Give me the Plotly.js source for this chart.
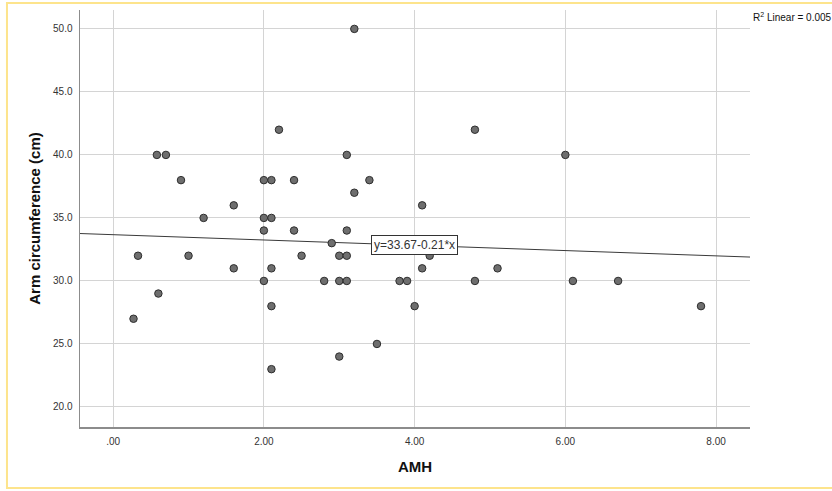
<!DOCTYPE html>
<html>
<head>
<meta charset="utf-8">
<script src="https://cdn.plot.ly/plotly-3.0.1.min.js"></script>
<style>
  html, body { margin: 0; padding: 0; background: #ffffff; }
  #chart { width: 832px; height: 491px; }
</style>
</head>
<body>
<div id="chart"></div>
<script>
// AMH (x) against arm circumference in cm (y), one entry per subject
const amh = [
  0.27, 0.33, 0.58, 0.6, 0.7, 0.9, 1.0, 1.2, 1.6, 1.6,
  2.0, 2.0, 2.0, 2.0, 2.1, 2.1, 2.1, 2.1, 2.1, 2.2,
  2.4, 2.4, 2.5, 2.8, 2.9, 3.0, 3.0, 3.0, 3.1, 3.1,
  3.1, 3.1, 3.2, 3.2, 3.4, 3.5, 3.8, 3.9, 4.0, 4.1,
  4.1, 4.2, 4.8, 4.8, 5.1, 6.0, 6.1, 6.7, 7.8
];
const armCircumference = [
  27, 32, 40, 29, 40, 38, 32, 35, 36, 31,
  38, 35, 34, 30, 38, 35, 31, 28, 23, 42,
  38, 34, 32, 30, 33, 32, 30, 24, 40, 34,
  32, 30, 50, 37, 38, 25, 30, 30, 28, 36,
  31, 32, 42, 30, 31, 40, 30, 30, 28
];

// Linear fit reported on the chart
const fitIntercept = 33.67;
const fitSlope = -0.21;
const fitLabel = 'y=33.67-0.21*x';
const rSquaredLabel = 'R<sup>2</sup> Linear = 0.005';

// Axis ranges and tick labels
const xRange = [-0.44, 8.45];
const yRange = [18.41, 51.5];
const xTickVals = [0, 2, 4, 6, 8];
const xTickText = ['.00', '2.00', '4.00', '6.00', '8.00'];
const yTickVals = [20, 25, 30, 35, 40, 45, 50];
const yTickText = ['20.0', '25.0', '30.0', '35.0', '40.0', '45.0', '50.0'];

const fitX = xRange.slice();
const fitY = fitX.map(x => fitIntercept + fitSlope * x);

const font = 'Liberation Sans, Arial, sans-serif';

const traces = [
  {
    x: fitX, y: fitY, type: 'scatter', mode: 'lines',
    line: { color: '#3a3a3a', width: 1 },
    hoverinfo: 'skip', showlegend: false
  },
  {
    x: amh, y: armCircumference, type: 'scatter', mode: 'markers',
    marker: { size: 7.5, color: '#6e6e6e', line: { color: '#2e2e2e', width: 1 } },
    showlegend: false
  }
];

const layout = {
  width: 832, height: 491,
  margin: { l: 80, r: 82, t: 10, b: 64 },
  paper_bgcolor: '#ffffff', plot_bgcolor: '#ffffff',
  font: { family: font, color: '#333333' },
  xaxis: {
    range: xRange, tickvals: xTickVals, ticktext: xTickText,
    showgrid: true, gridcolor: '#d4d4d4', gridwidth: 1,
    zeroline: false, showline: true, linecolor: '#8c8c8c', linewidth: 1.5,
    ticks: '', tickfont: { size: 10, color: '#333333' },
    ticklabelstandoff: 4,
    title: { text: '<b>AMH</b>', font: { size: 15, color: '#111111' }, standoff: 16 },
    automargin: false
  },
  yaxis: {
    range: yRange, tickvals: yTickVals, ticktext: yTickText,
    showgrid: true, gridcolor: '#d4d4d4', gridwidth: 1,
    zeroline: false, showline: true, linecolor: '#8c8c8c', linewidth: 1.5,
    ticks: '', tickfont: { size: 10, color: '#333333' },
    ticklabelstandoff: 4,
    title: { text: '<b>Arm circumference (cm)</b>', font: { size: 15, color: '#111111' }, standoff: 9 },
    automargin: false
  },
  annotations: [
    {
      x: 4.0, y: 32.86, xref: 'x', yref: 'y', text: fitLabel, showarrow: false,
      font: { family: font, size: 12, color: '#333333' },
      bgcolor: '#ffffff', bordercolor: '#333333', borderwidth: 1, borderpad: 2
    },
    {
      x: 1.0015, y: 0.983, xref: 'paper', yref: 'paper', xanchor: 'left', yanchor: 'middle',
      text: rSquaredLabel, showarrow: false,
      font: { family: font, size: 10, color: '#111111' }
    }
  ],
  shapes: [
    {
      type: 'rect', xref: 'paper', yref: 'paper',
      x0: -0.109, x1: 1.13, y0: -0.146, y1: 1.017,
      line: { color: '#fde48c', width: 2 }, fillcolor: 'rgba(0,0,0,0)', layer: 'below'
    }
  ]
};

Plotly.newPlot('chart', traces, layout, { displayModeBar: false, staticPlot: true });
</script>
</body>
</html>
